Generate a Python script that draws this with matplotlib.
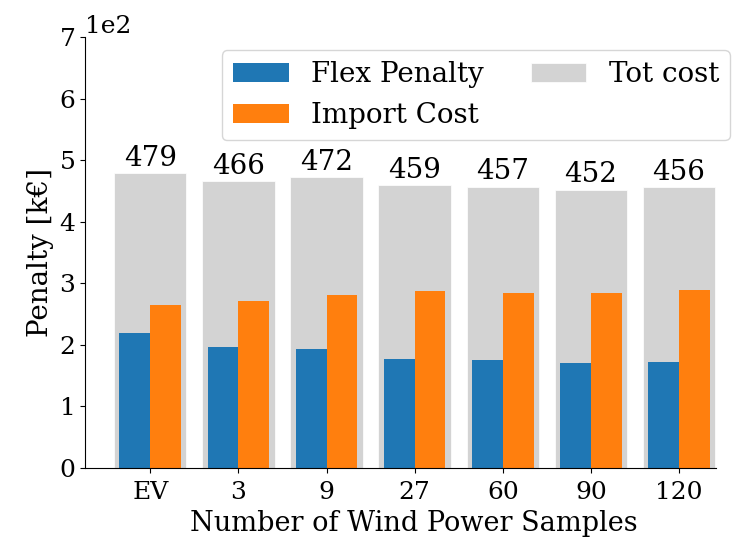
import numpy as np
import matplotlib
matplotlib.use("Agg")
import matplotlib.pyplot as plt

# data (k€)
samples = ["EV", "3", "9", "27", "60", "90", "120"]
tot_cost = [479, 466, 472, 459, 457, 452, 456]
flex_penalty = [219, 197, 193, 177, 175, 170, 172]
import_cost = [264, 272, 281, 287, 285, 285, 289]

plt.rcParams['font.family'] = ['DejaVu Serif']
plt.rcParams['font.size'] = 18

fig = plt.figure(figsize=(7.42, 5.41), dpi=100)
ax = fig.add_axes([0.1146, 0.135, 0.8504, 0.7966])

x = np.arange(len(samples))
w = 0.35

grey = ax.bar(x, tot_cost, 0.82, color="lightgrey", edgecolor="white", linewidth=0.5, label="Tot cost")
ax.bar(x - w / 2, flex_penalty, w, color="tab:blue", label="Flex Penalty")
ax.bar(x + w / 2, import_cost, w, color="tab:orange", label="Import Cost")
ax.bar_label(grey, padding=1, fontsize=20)

ax.set_xticks(x)
ax.set_xticklabels(samples)
ax.set_xlim(-0.74, 6.42)
ax.set_ylim(0, 700)
ax.ticklabel_format(axis="y", style="sci", scilimits=(2, 2))
ax.yaxis.get_offset_text().set_fontsize(18)
ax.tick_params(labelsize=18)
ax.tick_params(axis="x", pad=6)
ax.set_xlabel("Number of Wind Power Samples", fontsize=19.5)
ax.xaxis.set_label_coords(0.521, -0.097)
ax.set_ylabel("Penalty [k€]", fontsize=20)
ax.spines["top"].set_visible(False)
ax.spines["right"].set_visible(False)

handles, labels = ax.get_legend_handles_labels()
order = [1, 2, 0]
ax.legend([handles[i] for i in order], [labels[i] for i in order], ncol=2,
          loc="upper right", bbox_to_anchor=(730 / 742, 1 - 50 / 541),
          bbox_transform=fig.transFigure, borderaxespad=0, fontsize=20,
          handlelength=2.0, columnspacing=1.7)

fig.savefig("out.png", dpi=100)
